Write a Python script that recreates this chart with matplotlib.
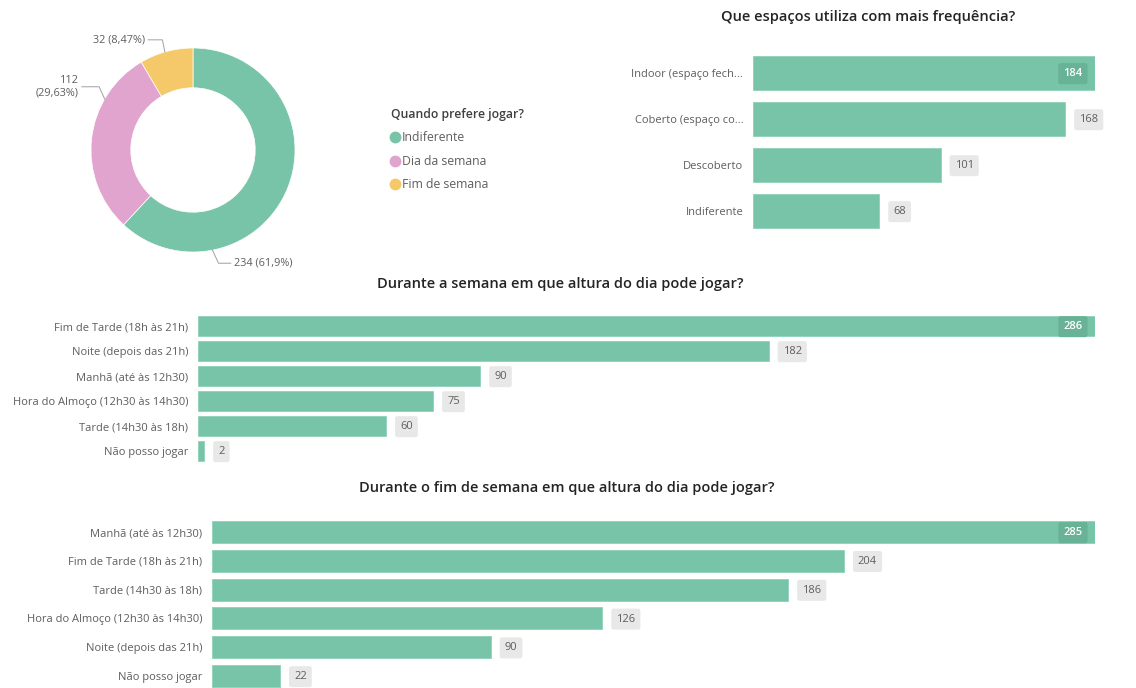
import numpy as np
import matplotlib
matplotlib.use("Agg")
import matplotlib.pyplot as plt
from matplotlib.lines import Line2D

plt.rcParams['font.family'] = ['Open Sans', 'DejaVu Sans']

# donut: Quando prefere jogar?
pref_labels = ["Indiferente", "Dia da semana", "Fim de semana"]
pref_values = [234, 112, 32]
pref_pct = ["61,9%", "29,63%", "8,47%"]

# espaços
space_labels = ["Indoor (espaço fech...", "Coberto (espaço co...", "Descoberto", "Indiferente"]
space_values = [184, 168, 101, 68]

# semana
week_labels = ["Fim de Tarde (18h às 21h)", "Noite (depois das 21h)", "Manhã (até às 12h30)",
               "Hora do Almoço (12h30 às 14h30)", "Tarde (14h30 às 18h)", "Não posso jogar"]
week_values = [286, 182, 90, 75, 60, 2]

# fim de semana
wkend_labels = ["Manhã (até às 12h30)", "Fim de Tarde (18h às 21h)", "Tarde (14h30 às 18h)",
                "Hora do Almoço (12h30 às 14h30)", "Noite (depois das 21h)", "Não posso jogar"]
wkend_values = [285, 204, 186, 126, 90, 22]

GREEN = "#77C4A8"
PINK = "#E0A4CF"
YELLOW = "#F5C96A"
TXT = "#605E5C"
TITLE = "#252423"

W, H = 1136, 688
fig = plt.figure(figsize=(W / 100, H / 100), dpi=100)
fig.patch.set_facecolor("white")


def px_axes(x0, y0, x1, y1):
    return fig.add_axes([x0 / W, 1 - y1 / H, (x1 - x0) / W, (y1 - y0) / H])


def bar_panel(ax, labels, values, height, fs=8):
    y = np.arange(len(values))
    ax.barh(y, values, height=height, color=GREEN, edgecolor="#8fd1b9", linewidth=0.6)
    ax.set_xlim(0, max(values))
    ax.set_ylim(len(values) - 0.5, -0.5)
    ax.set_yticks(y)
    ax.set_yticklabels(labels, fontsize=fs, color=TXT)
    ax.tick_params(axis="y", length=0, pad=7)
    ax.set_xticks([])
    for s in ax.spines.values():
        s.set_visible(False)
    vmax = max(values)
    for yi, v in zip(y, values):
        if v == vmax:
            ax.annotate(str(v), (v, yi), xytext=(-9, -0.5), textcoords="offset points",
                        ha="right", va="center", fontsize=fs, color="white", fontweight="semibold",
                        bbox=dict(boxstyle="round,pad=0.45,rounding_size=0.2", fc="#68B296", ec="none"))
        else:
            ax.annotate(str(v), (v, yi), xytext=(10, -0.5), textcoords="offset points",
                        ha="left", va="center", fontsize=fs, color=TXT,
                        bbox=dict(boxstyle="round,pad=0.45,rounding_size=0.2", fc="#E8E8E8", ec="none"))


# ---- donut
axp = px_axes(91, 48, 295, 252)
axp.pie(pref_values, colors=[GREEN, PINK, YELLOW], startangle=90, counterclock=False,
        radius=1, wedgeprops=dict(width=0.39, edgecolor="white", linewidth=0.5))
axp.set_xlim(-1, 1)
axp.set_ylim(-1, 1)
axp.set_aspect("equal")
axp.axis("off")

# leader lines (angle on ring, elbow point, text side)
leaders = [(-79, (0.25, -1.11), (0.37, -1.11), "left"),
           (150, (-0.92, 0.62), (-1.09, 0.62), "right"),
           (106, (-0.30, 1.08), (-0.44, 1.08), "right")]
for (ang, elbow, end, side), v, p in zip(leaders, pref_values, pref_pct):
    a = np.deg2rad(ang)
    sx, sy = 1.0 * np.cos(a), 1.0 * np.sin(a)
    axp.plot([sx, elbow[0], end[0]], [sy, elbow[1], end[1]], color="#A0A0A0", lw=0.7, clip_on=False)
    if v == 112:
        txt = f"{v}\n({p})"
    else:
        txt = f"{v} ({p})"
    dx = 0.03 if side == "left" else -0.03
    axp.text(end[0] + dx, end[1], txt, ha=side, va="center", fontsize=7.8, color=TXT,
             linespacing=1.2, multialignment="right")

# legend
leg_handles = [Line2D([0], [0], marker="o", color="none", markerfacecolor=c, markeredgecolor=c, markersize=7.5)
               for c in [GREEN, PINK, YELLOW]]
leg = fig.legend(leg_handles, pref_labels, loc="upper left", bbox_to_anchor=(380 / W, 1 - 97 / H),
                 frameon=False, fontsize=8.8, handlelength=0.7, handletextpad=0.2, labelspacing=0.85,
                 title="Quando prefere jogar?", title_fontproperties=dict(size=8.8, weight="semibold"),
                 alignment="left", labelcolor=TXT)
leg.get_title().set_color("#404040")

# ---- espaços
ax1 = px_axes(753, 50, 1095, 234)
bar_panel(ax1, space_labels, space_values, 0.74)
fig.text(868 / W, 1 - 17 / H, "Que espaços utiliza com mais frequência?", ha="center", va="center",
         fontsize=10.5, fontweight="semibold", color=TITLE)

# ---- semana
ax2 = px_axes(198, 313.5, 1095, 463.5)
bar_panel(ax2, week_labels, week_values, 0.8)
fig.text(560 / W, 1 - 284 / H, "Durante a semana em que altura do dia pode jogar?", ha="center",
         va="center", fontsize=10.5, fontweight="semibold", color=TITLE)

# ---- fim de semana
ax3 = px_axes(212, 517.6, 1095, 690.4)
bar_panel(ax3, wkend_labels, wkend_values, 0.77)
fig.text(567 / W, 1 - 488 / H, "Durante o fim de semana em que altura do dia pode jogar?", ha="center",
         va="center", fontsize=10.5, fontweight="semibold", color=TITLE)

fig.savefig("out.png", dpi=100)
